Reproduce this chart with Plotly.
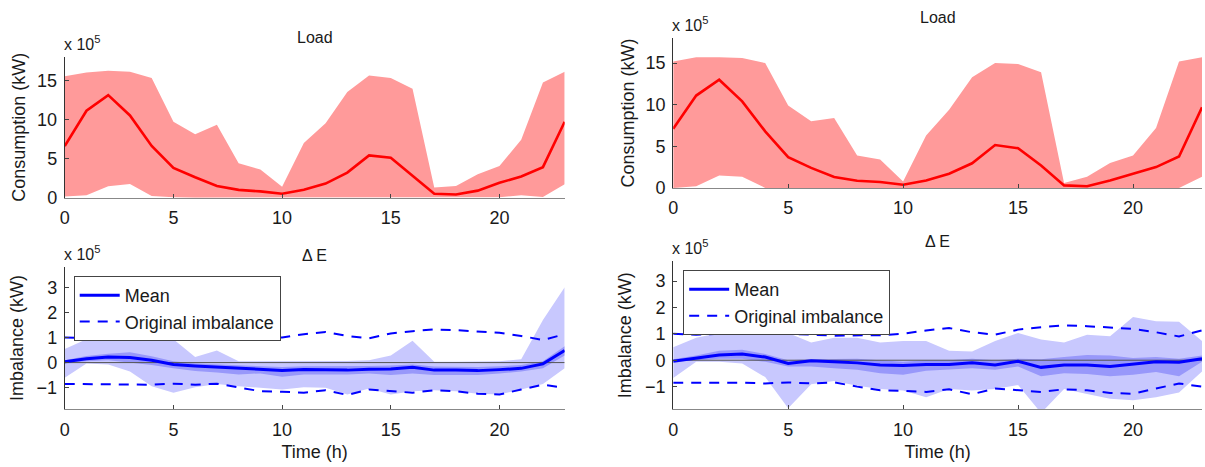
import plotly.graph_objects as go

hours = list(range(24))

# ---- Left column (values in units of 1e5 kW) ----
load_mean_L = [6.6, 11.1, 13.1, 10.5, 6.6, 3.8, 2.6, 1.5, 1.0, 0.8, 0.5, 1.0, 1.8, 3.2, 5.4, 5.1, 2.8, 0.5, 0.4, 0.9, 1.9, 2.7, 3.9, 9.7]
load_max_L = [15.5, 16.0, 16.2, 16.1, 15.3, 9.7, 8.1, 9.3, 4.4, 3.6, 1.4, 7.0, 9.5, 13.5, 15.6, 15.3, 13.9, 1.3, 1.5, 3.0, 4.05, 7.4, 14.7, 16.1]
load_min_L = [0.15, 0.3, 1.46, 1.75, 0.2, 0.05, 0, 0, 0, 0, 0, 0, 0, 0, 0, 0, 0, 0, 0, 0, 0.05, 0.3, 0.1, 1.7]

imb_mean_L = [0.03, 0.15, 0.22, 0.2, 0.09, -0.08, -0.14, -0.18, -0.23, -0.27, -0.31, -0.28, -0.28, -0.3, -0.27, -0.26, -0.19, -0.3, -0.3, -0.32, -0.28, -0.23, -0.05, 0.48]
imb_in_hi_L = [0.09, 0.26, 0.35, 0.41, 0.25, 0.05, -0.04, -0.08, -0.12, -0.15, -0.18, -0.15, -0.15, -0.17, -0.14, -0.12, -0.08, -0.16, -0.17, -0.18, -0.15, -0.1, 0.05, 0.65]
imb_in_lo_L = [-0.04, 0.05, 0.09, 0.0, -0.1, -0.23, -0.34, -0.39, -0.47, -0.43, -0.56, -0.47, -0.47, -0.47, -0.43, -0.49, -0.43, -0.49, -0.49, -0.49, -0.43, -0.36, -0.23, 0.28]
imb_out_hi_L = [0.54, 0.93, 1.0, 1.13, 0.93, 0.93, 0.22, 0.48, 0.05, 0.05, 0.03, 0.03, 0.05, 0.06, 0.09, 0.28, 0.87, 0.03, 0.03, 0.03, 0.05, 0.13, 1.7, 3.0]
imb_out_lo_L = [-0.6, -0.04, -0.08, -0.36, -0.94, -1.2, -0.98, -0.85, -0.94, -1.0, -1.07, -0.98, -1.0, -1.27, -1.03, -1.27, -1.14, -1.1, -1.14, -1.24, -1.27, -1.07, -0.85, -0.23]

# ---- Right column ----
load_mean_R = [7.1, 11.1, 13.0, 10.4, 6.8, 3.7, 2.4, 1.3, 0.85, 0.7, 0.38, 0.9, 1.7, 2.96, 5.15, 4.77, 2.7, 0.3, 0.2, 0.9, 1.7, 2.5, 3.77, 9.7]
load_max_R = [15.2, 15.7, 15.7, 15.6, 15.0, 9.9, 8.0, 8.4, 3.9, 3.4, 0.77, 6.3, 9.4, 13.3, 15.0, 14.9, 13.9, 0.6, 1.35, 3.0, 3.9, 7.2, 15.2, 15.7]
load_min_R = [0, 0.2, 1.5, 1.35, 0, 0, 0, 0, 0, 0, 0, 0, 0, 0, 0, 0, 0, 0, 0, 0, 0, 0, 0, 1.35]

imb_mean_R = [-0.04, 0.08, 0.2, 0.24, 0.12, -0.12, -0.02, -0.06, -0.1, -0.18, -0.2, -0.16, -0.16, -0.1, -0.18, -0.04, -0.27, -0.18, -0.18, -0.24, -0.16, -0.06, -0.08, 0.06]
imb_in_hi_R = [0.04, 0.18, 0.36, 0.4, 0.24, 0.0, 0.04, 0.06, 0.06, 0.0, -0.06, 0.0, 0.0, 0.06, 0.0, 0.06, 0.04, 0.12, 0.2, 0.18, 0.08, 0.12, 0.06, 0.18]
imb_in_lo_R = [-0.06, 0.0, 0.06, 0.06, -0.06, -0.24, -0.24, -0.3, -0.36, -0.49, -0.55, -0.4, -0.36, -0.3, -0.36, -0.24, -0.61, -0.49, -0.52, -0.61, -0.55, -0.45, -0.61, -0.06]
imb_out_hi_R = [0.49, 0.85, 1.03, 1.28, 1.03, 1.03, 0.67, 0.85, 0.85, 0.67, 0.73, 0.73, 0.36, 0.33, 0.73, 1.03, 0.79, 0.67, 0.97, 0.91, 1.64, 1.48, 1.46, 0.73]
imb_out_lo_R = [-0.67, -0.06, -0.06, -0.12, -0.64, -1.82, -0.91, -0.79, -0.97, -1.09, -1.15, -1.4, -1.09, -1.15, -1.09, -0.94, -2.0, -1.09, -1.28, -1.46, -1.52, -1.4, -1.22, -0.43]

# Original imbalance (same in both)
orig_hi = [1.0, 0.97, 1.0, 1.13, 1.02, 1.0, 0.97, 0.93, 0.93, 0.95, 1.0, 1.13, 1.22, 1.06, 0.97, 1.16, 1.25, 1.32, 1.29, 1.25, 1.19, 1.06, 0.9, 1.13]
orig_lo = [-0.85, -0.85, -0.85, -0.85, -0.88, -0.84, -0.88, -0.84, -1.0, -1.14, -1.16, -1.2, -1.1, -1.29, -1.07, -1.14, -1.2, -1.1, -1.14, -1.24, -1.27, -1.07, -0.88, -1.0]

RED = "#ff0000"
RED_FILL = "#ff9a9a"
BLUE = "#0000ff"
LIGHT_B = "#c8c8fe"
DARK_B = "#9898fa"
FONT = "Liberation Sans, Arial, sans-serif"
TXT = "#1a1a1a"

fig = go.Figure()


def band(lo, hi, color, xa, ya):
    fig.add_trace(go.Scatter(x=hours, y=lo, mode="lines", line=dict(width=0, color=color),
                             showlegend=False, hoverinfo="skip", xaxis=xa, yaxis=ya))
    fig.add_trace(go.Scatter(x=hours, y=hi, mode="lines", line=dict(width=0, color=color),
                             fill="tonexty", fillcolor=color, showlegend=False,
                             hoverinfo="skip", xaxis=xa, yaxis=ya))


# Load panels
for (mn, mx, mean, xa, ya) in [(load_min_L, load_max_L, load_mean_L, "x", "y"),
                               (load_min_R, load_max_R, load_mean_R, "x2", "y2")]:
    band(mn, mx, RED_FILL, xa, ya)
    fig.add_trace(go.Scatter(x=hours, y=mean, mode="lines", line=dict(color=RED, width=2.6),
                             showlegend=False, xaxis=xa, yaxis=ya))

# Imbalance panels
for (blo, bhi, ilo, ihi, mean, xa, ya, lg) in [
        (imb_out_lo_L, imb_out_hi_L, imb_in_lo_L, imb_in_hi_L, imb_mean_L, "x3", "y3", "legend"),
        (imb_out_lo_R, imb_out_hi_R, imb_in_lo_R, imb_in_hi_R, imb_mean_R, "x4", "y4", "legend2")]:
    band(blo, bhi, LIGHT_B, xa, ya)
    band(ilo, ihi, DARK_B, xa, ya)
    fig.add_trace(go.Scatter(x=hours, y=[0] * len(hours), mode="lines",
                             line=dict(color="#555555", width=1), showlegend=False,
                             hoverinfo="skip", xaxis=xa, yaxis=ya))
    fig.add_trace(go.Scatter(x=hours, y=mean, mode="lines", line=dict(color=BLUE, width=3),
                             name="Mean", legend=lg, xaxis=xa, yaxis=ya))
    fig.add_trace(go.Scatter(x=hours, y=orig_hi, mode="lines",
                             line=dict(color=BLUE, width=2, dash="10px,8px"),
                             name="Original imbalance", legend=lg, xaxis=xa, yaxis=ya))
    fig.add_trace(go.Scatter(x=hours, y=orig_lo, mode="lines",
                             line=dict(color=BLUE, width=2, dash="10px,8px"),
                             showlegend=False, xaxis=xa, yaxis=ya))

W, H = 1205, 467
xdomL = [60 / W, 562 / W]
xdomR = [671 / W, 1202 / W]
ydom_TL = [1 - 202 / H, 1 - 58 / H]
ydom_TR = [1 - 192 / H, 1 - 39 / H]
ydom_BL = [1 - 418 / H, 1 - 273 / H]
ydom_BR = [1 - 418 / H, 1 - 267 / H]

axfont = dict(family=FONT, size=18, color=TXT)
xcommon = dict(range=[0, 23], tickvals=[0, 5, 10, 15, 20], ticks="inside", ticklen=4,
               tickcolor="#444444", showline=True, linecolor="#888888", linewidth=1,
               showgrid=False, zeroline=False, tickfont=axfont, mirror=False,
               ticklabelstandoff=4)
ycommon = dict(ticks="inside", ticklen=4, tickcolor="#444444", showline=True,
               linecolor="#333333", linewidth=1, showgrid=False, zeroline=False,
               tickfont=axfont, ticklabelstandoff=3)

fig.update_layout(
    width=W, height=H, margin=dict(l=0, r=0, t=0, b=0),
    paper_bgcolor="white", plot_bgcolor="rgba(0,0,0,0)",
    font=dict(family=FONT, size=18, color=TXT),
    xaxis=dict(domain=xdomL, anchor="y", **xcommon),
    yaxis=dict(domain=ydom_TL, anchor="x", range=[0, 18], tickvals=[0, 5, 10, 15],
               title=dict(text="Consumption (kW)", font=axfont, standoff=6), **ycommon),
    xaxis2=dict(domain=xdomR, anchor="y2", **xcommon),
    yaxis2=dict(domain=ydom_TR, anchor="x2", range=[0, 18], tickvals=[0, 5, 10, 15],
                title=dict(text="Consumption (kW)", font=axfont, standoff=6), **ycommon),
    xaxis3=dict(domain=xdomL, anchor="y3", title=dict(text="Time (h)", font=axfont, standoff=6), **xcommon),
    yaxis3=dict(domain=ydom_BL, anchor="x3", range=[-1.85, 3.8], tickvals=[-1, 0, 1, 2, 3],
                title=dict(text="Imbalance (kW)", font=axfont, standoff=8), **ycommon),
    xaxis4=dict(domain=xdomR, anchor="y4", title=dict(text="Time (h)", font=axfont, standoff=6), **xcommon),
    yaxis4=dict(domain=ydom_BR, anchor="x4", range=[-1.85, 3.75], tickvals=[-1, 0, 1, 2, 3],
                title=dict(text="Imbalance (kW)", font=axfont, standoff=8), **ycommon),
    legend=dict(x=69 / W, y=1 - 282 / H, xanchor="left", yanchor="top", traceorder="normal",
                bgcolor="white", bordercolor="#444444", borderwidth=1,
                font=dict(family=FONT, size=18, color=TXT), tracegroupgap=0,
                itemwidth=40),
    legend2=dict(x=681 / W, y=1 - 276 / H, xanchor="left", yanchor="top", traceorder="normal",
                 bgcolor="white", bordercolor="#444444", borderwidth=1,
                 font=dict(family=FONT, size=18, color=TXT), tracegroupgap=0,
                 itemwidth=40),
)

annots = []
for xa, ya, title, shift in [("x", "y", "Load", 9), ("x2", "y2", "Load", 10),
                             ("x3", "y3", "Δ E", 1), ("x4", "y4", "Δ E", 9)]:
    annots.append(dict(xref=f"{xa} domain", yref=f"{ya} domain", x=0, y=1,
                       xanchor="left", yanchor="bottom", showarrow=False,
                       text="x 10<sup>5</sup>", font=dict(family=FONT, size=16, color=TXT),
                       yshift=2, xshift=-3))
    annots.append(dict(xref=f"{xa} domain", yref=f"{ya} domain", x=0.5, y=1,
                       xanchor="center", yanchor="bottom", showarrow=False,
                       text=title, font=dict(family=FONT, size=16, color=TXT),
                       yshift=shift))
fig.update_layout(annotations=annots)

fig.write_html("out.html")
